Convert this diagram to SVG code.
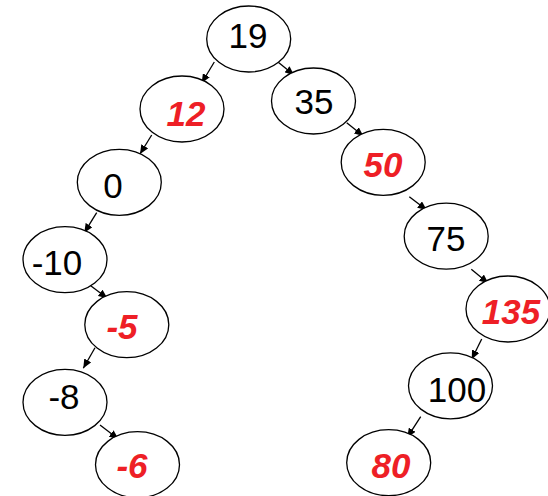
<svg xmlns="http://www.w3.org/2000/svg" width="548" height="496" viewBox="0 0 548 496">
<defs>
<marker id="ah" markerWidth="9" markerHeight="8" refX="9" refY="4" orient="auto" markerUnits="userSpaceOnUse">
<path d="M0,0 L9,4 L0,8 z" fill="#000"/>
</marker>
<style>
.n ellipse{fill:#fff;stroke:#000;stroke-width:1.3}
.n text{font-family:"Liberation Sans",Arial,sans-serif;font-size:35px;text-anchor:middle;fill:#000}
.n text.r{fill:#ee1f26;font-weight:bold;font-style:italic}
#edges line{stroke:#000;stroke-width:1.3;marker-end:url(#ah)}
</style>
</defs>
<rect width="548" height="496" fill="#fff"/>
<g id="edges">
<line x1="214.3" y1="62" x2="201.7" y2="83"/>
<line x1="276.7" y1="61" x2="294" y2="75"/>
<line x1="151.7" y1="135" x2="140" y2="154"/>
<line x1="96.7" y1="212.7" x2="84.3" y2="232.7"/>
<line x1="90.7" y1="285.7" x2="107.3" y2="298.3"/>
<line x1="95" y1="347.7" x2="83.3" y2="368.3"/>
<line x1="100" y1="425" x2="118.3" y2="439"/>
<line x1="346.7" y1="122.7" x2="363.3" y2="136"/>
<line x1="409.3" y1="196.7" x2="426.7" y2="210"/>
<line x1="471.3" y1="269.3" x2="488.3" y2="283.3"/>
<line x1="481.7" y1="339" x2="471.7" y2="359.3"/>
<line x1="420.7" y1="416.7" x2="407.3" y2="437.3"/>
</g>
<g id="n19" class="n"><ellipse cx="248.7" cy="39" rx="42" ry="33"/><text x="248" y="48">19</text></g>
<g id="n12" class="n"><ellipse cx="182" cy="109" rx="42" ry="33"/><text class="r" x="186" y="126">12</text></g>
<g id="n35" class="n"><ellipse cx="313.5" cy="101" rx="42" ry="33"/><text x="314" y="114">35</text></g>
<g id="n0" class="n"><ellipse cx="119.3" cy="182.3" rx="42" ry="33"/><text x="113" y="198">0</text></g>
<g id="n50" class="n"><ellipse cx="383.2" cy="162.3" rx="42" ry="33"/><text class="r" x="383" y="177">50</text></g>
<g id="nm10" class="n"><ellipse cx="65" cy="259.7" rx="42" ry="33"/><text x="57" y="275">-10</text></g>
<g id="n75" class="n"><ellipse cx="446.2" cy="236.2" rx="42" ry="33"/><text x="446" y="251">75</text></g>
<g id="nm5" class="n"><ellipse cx="126.8" cy="324.7" rx="42" ry="33"/><text class="r" x="122" y="339">-5</text></g>
<g id="n135" class="n"><ellipse cx="508" cy="309" rx="42" ry="33"/><text class="r" x="511" y="324">135</text></g>
<g id="nm8" class="n"><ellipse cx="65" cy="402.3" rx="42" ry="33"/><text x="64" y="409">-8</text></g>
<g id="n100" class="n"><ellipse cx="450.5" cy="385.8" rx="42" ry="33"/><text x="457" y="402">100</text></g>
<g id="nm6" class="n"><ellipse cx="137.5" cy="464.7" rx="42" ry="33"/><text class="r" x="132" y="478">-6</text></g>
<g id="n80" class="n"><ellipse cx="388.7" cy="462.7" rx="42" ry="33"/><text class="r" x="391" y="478">80</text></g>
</svg>
